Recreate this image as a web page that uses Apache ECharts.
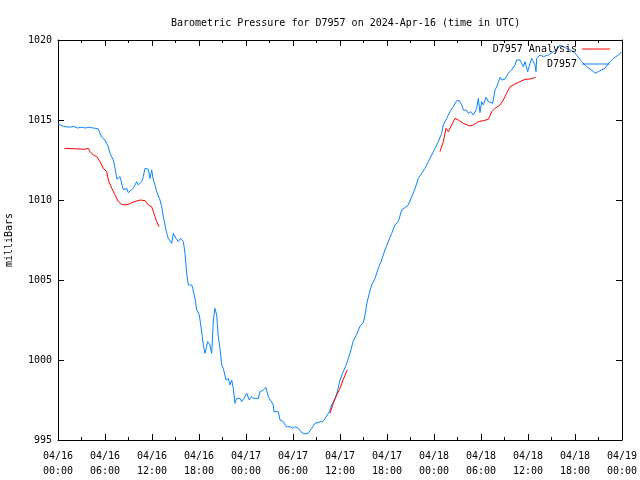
<!DOCTYPE html>
<html>
<head>
<meta charset="utf-8">
<script src="https://cdn.jsdelivr.net/npm/echarts@6/dist/echarts.min.js"></script>
<style>html,body{margin:0;padding:0;background:#fff}#c{width:640px;height:480px}</style>
</head>
<body>
<div id="c"></div>
<script>
// Hours since 2024-04-16 00:00 UTC
var stationHours = [0,0.7,1.5,2,2.5,3,3.5,4,4.5,5.14,5.58,6.0,6.42,6.64,7.06,7.28,7.53,7.7,7.91,8.13,8.34,8.77,8.97,9.61,10.05,10.25,10.69,10.89,11.11,11.53,11.74,11.96,12.17,12.38,12.6,13.02,13.24,13.44,13.66,13.88,14.08,14.51,14.72,15.06,15.36,15.66,16.0,16.21,16.43,16.63,17.07,17.2,17.49,17.71,18.04,18.22,18.42,18.55,18.77,18.98,19.11,19.4,19.62,19.83,20.04,20.26,20.46,20.68,20.9,21.1,21.45,21.74,21.96,22.17,22.38,22.6,22.81,23.23,23.45,23.87,24.09,24.42,24.73,25.02,25.57,25.79,26.21,26.55,26.85,27.06,27.49,27.57,28.12,28.34,28.56,28.76,29.11,29.62,29.96,30.26,30.68,31.11,31.53,31.95,32.39,32.81,33.03,33.87,34.3,34.63,34.94,35.36,35.66,36.0,36.42,36.86,37.28,37.7,38.13,38.55,38.98,39.19,39.41,39.74,40.05,40.47,40.89,41.32,41.74,42.17,42.6,43.02,43.44,43.88,44.08,44.43,44.72,45.15,45.57,46.0,46.43,46.85,47.27,47.71,48.13,48.55,48.98,49.19,49.62,50.04,50.46,50.9,51.23,51.54,51.74,51.96,52.17,52.38,52.68,53.02,53.45,53.66,53.87,54.09,54.3,54.64,54.94,55.15,55.49,55.79,56.0,56.43,56.64,57.06,57.28,57.48,57.92,58.34,58.55,58.98,59.4,59.62,59.96,60.26,60.47,60.89,61.02,61.11,61.53,61.96,62.59,63.23,63.66,64.09,64.51,64.94,65.36,65.79,66.21,66.85,67.49,68.13,68.55,68.98,69.41,69.83,70.26,70.89,71.53,71.96];
var stationValues = [1014.75,1014.6,1014.55,1014.6,1014.5,1014.55,1014.5,1014.55,1014.5,1014.45,1013.92,1013.75,1013.33,1012.92,1012.5,1011.98,1011.3,1011.35,1011.46,1011.35,1010.63,1010.73,1010.46,1010.73,1011.15,1010.94,1011.15,1011.46,1011.98,1011.92,1011.35,1011.88,1011.25,1010.94,1010.52,1010.0,1009.58,1008.96,1008.44,1007.92,1007.6,1007.29,1007.92,1007.6,1007.4,1007.6,1007.4,1006.67,1005.42,1004.69,1004.69,1004.48,1003.85,1003.13,1002.81,1002.19,1001.46,1000.94,1000.42,1000.31,1001.15,1000.94,1000.42,1002.5,1003.23,1002.81,1001.46,1000.73,999.69,999.48,998.75,998.85,998.44,998.75,998.23,997.29,997.6,997.6,997.4,997.71,997.92,997.5,997.71,997.6,997.6,998.02,998.13,998.29,997.71,997.6,997.19,996.77,996.77,996.25,996.35,996.15,995.83,995.83,995.73,995.83,995.73,995.46,995.38,995.42,995.73,996.04,996.15,996.19,996.5,996.77,997.19,997.6,998.02,998.75,999.27,999.79,1000.42,1001.2,1001.6,1002.1,1002.35,1002.8,1003.5,1004.17,1004.69,1005.1,1005.73,1006.25,1006.88,1007.4,1007.92,1008.44,1008.65,1009.38,1009.38,1009.58,1009.69,1010.2,1010.7,1011.35,1011.67,1011.98,1012.4,1012.81,1013.23,1013.65,1014.17,1014.69,1015.1,1015.52,1015.83,1016.21,1016.21,1015.94,1015.63,1015.52,1015.6,1015.42,1015.52,1015.31,1015.73,1016.35,1015.46,1016.15,1015.94,1016.42,1016.15,1016.15,1016.04,1016.88,1017.08,1017.67,1017.5,1017.55,1017.6,1017.92,1018.13,1018.44,1018.75,1018.75,1018.33,1018.65,1018.02,1018.54,1018.85,1018.44,1018.02,1018.85,1019.06,1018.96,1019.06,1019.27,1019.38,1019.69,1019.58,1019.48,1019.38,1019.27,1019.06,1018.65,1018.33,1018.13,1017.92,1018.02,1018.13,1018.23,1018.54,1018.85,1019.06,1019.27];

// Analysis series (null = gap)
var analysisHours = [0.8,1.02,3.45,3.87,4.09,4.51,4.94,5.36,5.78,6.22,6.42,6.86,7.28,7.7,8.13,8.55,8.97,9.41,10.05,10.47,11.11,11.53,11.96,12.17,12.38,12.6,12.89,
  20,
  34.72,35.15,35.58,36.0,36.42,36.93,
  42,
  48.77,48.98,49.19,49.53,49.83,50.26,50.68,51.1,51.74,52.6,53.02,53.66,54.3,54.94,55.37,55.79,56.43,56.85,57.28,57.7,58.34,58.98,59.62,60.26,60.98];
var analysisValues = [1013.23,1013.13,1013.17,1013.23,1013.02,1012.81,1012.71,1012.4,1011.98,1011.77,1011.25,1010.73,1010.31,1009.9,1009.73,1009.69,1009.73,1009.83,1009.94,1010.0,1009.96,1009.69,1009.58,1009.27,1008.96,1008.65,1008.33,
  null,
  996.67,997.29,997.81,998.23,998.79,999.38,
  null,
  1013.02,1013.02,1013.65,1014.48,1014.27,1014.69,1015.1,1015.0,1014.79,1014.63,1014.69,1014.9,1014.96,1015.04,1015.52,1015.73,1015.94,1016.25,1016.67,1017.08,1017.25,1017.4,1017.54,1017.56,1017.67];

var xTickLabels = ['04/16\n00:00','04/16\n06:00','04/16\n12:00','04/16\n18:00','04/17\n00:00','04/17\n06:00','04/17\n12:00','04/17\n18:00','04/18\n00:00','04/18\n06:00','04/18\n12:00','04/18\n18:00','04/19\n00:00'];
var seriesNames = ['D7957 Analysis','D7957'];
var titleText = 'Barometric Pressure for D7957 on 2024-Apr-16 (time in UTC)';
var yAxisName = 'milliBars';

var FONT = 'DejaVu Sans Mono';
function zip(a,b){var r=[];for(var i=0;i<a.length;i++)r.push([a[i],b[i]]);return r;}

var chart = echarts.init(document.getElementById('c'), null, {renderer:'canvas'});
var xBase = {
  type:'value', min:0, max:72, interval:6,
  axisLine:{show:true,onZero:false,lineStyle:{color:'#000',width:1}},
  axisTick:{show:true,inside:true,length:6,lineStyle:{color:'#000'}},
  minorTick:{show:true,splitNumber:2,length:3,lineStyle:{color:'#000'}},
  splitLine:{show:false}
};
var yBase = {
  type:'value', min:995, max:1020, interval:5,
  axisLine:{show:true,onZero:false,lineStyle:{color:'#000',width:1}},
  axisTick:{show:true,inside:true,length:6,lineStyle:{color:'#000'}},
  splitLine:{show:false}
};
chart.setOption({
  animation:false,
  backgroundColor:'#fff',
  title:{text:titleText,left:166,top:13,textStyle:{fontFamily:FONT,fontSize:10,fontWeight:'normal',color:'#000'}},
  grid:{left:58,right:18,top:40,bottom:40,containLabel:false,outerBoundsMode:'none'},
  legend:{
    data:seriesNames, orient:'vertical', right:25, top:38, align:'right',
    itemWidth:28, itemHeight:1, itemGap:3, icon:'rect',
    textStyle:{fontFamily:FONT,fontSize:10,color:'#000',lineHeight:12}
  },
  xAxis:[
    Object.assign({}, xBase, {position:'bottom',
      axisLabel:{show:true,margin:9,fontFamily:FONT,fontSize:10,color:'#000',lineHeight:15,
        formatter:function(v){return xTickLabels[Math.round(v/6)];}}}),
    Object.assign({}, xBase, {position:'top',axisLabel:{show:false}})
  ],
  yAxis:[
    Object.assign({}, yBase, {position:'left',name:yAxisName,nameLocation:'middle',nameRotate:90,nameGap:44,
      nameTextStyle:{fontFamily:FONT,fontSize:10,color:'#000'},
      axisLabel:{show:true,margin:6,fontFamily:FONT,fontSize:10,color:'#000',formatter:function(v){return String(v);}}}),
    Object.assign({}, yBase, {position:'right',axisLabel:{show:false}})
  ],
  series:[
    {name:seriesNames[1],type:'line',xAxisIndex:0,yAxisIndex:0,data:zip(stationHours,stationValues),
      showSymbol:false,symbol:'none',lineStyle:{color:'#0a84ff',width:1},itemStyle:{color:'#0a84ff'}},
    {name:seriesNames[0],type:'line',xAxisIndex:0,yAxisIndex:0,data:zip(analysisHours,analysisValues),
      connectNulls:false,showSymbol:false,symbol:'none',lineStyle:{color:'#ff0000',width:1},itemStyle:{color:'#ff0000'}}
  ]
});
</script>
</body>
</html>
